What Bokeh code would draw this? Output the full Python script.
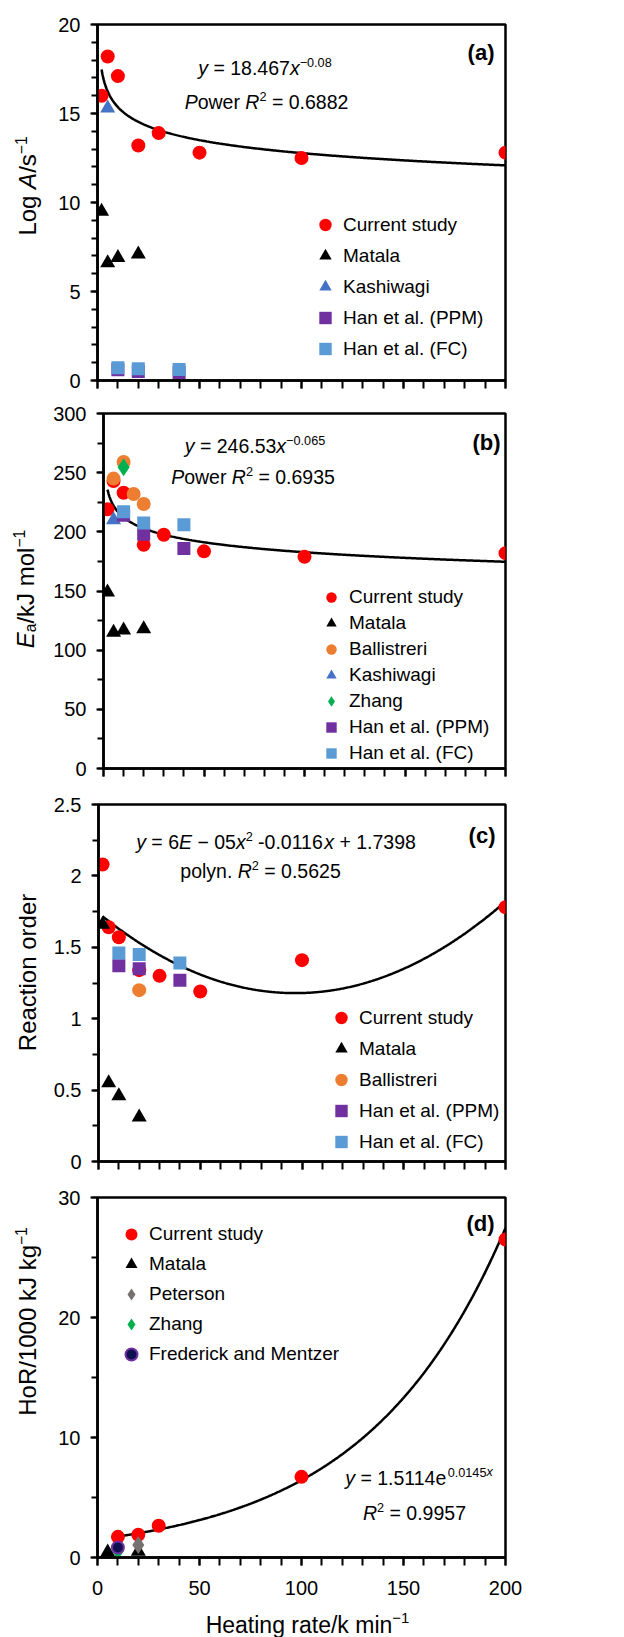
import math
import numpy as np
from bokeh.plotting import figure
from bokeh.layouts import column, row
from bokeh.models import (Range1d, Legend, LegendItem, Label, FixedTicker,
                          SingleIntervalTicker)
from bokeh.embed import file_html
from bokeh.resources import INLINE

FONT = "Liberation Sans"

# ---------------- data ----------------
# (a) Log A / s^-1
a_cs_x = [2, 5, 10, 20, 30, 50, 100, 200]
a_cs_y = [16.0, 18.2, 17.1, 13.2, 13.9, 12.8, 12.5, 12.8]
a_mat_x = [2, 5, 10, 20]
a_mat_y = [9.5, 6.6, 6.9, 7.1]
a_kas_x = [5]
a_kas_y = [15.3]
a_han_x = [10, 20, 40]
a_ppm_y = [0.6, 0.5, 0.45]
a_fc_y = [0.72, 0.66, 0.62]
a_fit = (18.467, -0.08)

# (b) Ea / kJ mol^-1
b_cs_x = [2, 5, 10, 20, 30, 50, 100, 200]
b_cs_y = [219, 243, 233, 189, 197.5, 183.5, 179, 182]
b_mat_x = [2, 5, 10, 20]
b_mat_y = [149, 115, 117, 118]
b_bal_x = [5, 10, 15, 20]
b_bal_y = [245, 259, 232, 223.5]
b_kas_x = [5]
b_kas_y = [210]
b_zh_x = [10]
b_zh_y = [254.5]
b_han_x = [10, 20, 40]
b_ppm_y = [214, 198, 186]
b_fc_y = [217, 207.5, 206]
b_fit = (246.53, -0.065)

# (c) Reaction order
c_cs_x = [2, 5, 10, 20, 30, 50, 100, 200]
c_cs_y = [2.08, 1.64, 1.57, 1.34, 1.30, 1.19, 1.41, 1.78]
c_mat_x = [2, 5, 10, 20]
c_mat_y = [1.66, 0.55, 0.46, 0.31]
c_bal_x = [20]
c_bal_y = [1.20]
c_han_x = [10, 20, 40]
c_ppm_y = [1.37, 1.35, 1.27]
c_fc_y = [1.46, 1.45, 1.39]
c_fit = (6e-5, -0.0116, 1.7398)

# (d) HoR / 1000 kJ kg^-1
d_cs_x = [10, 20, 30, 100, 200]
d_cs_y = [1.72, 1.89, 2.64, 6.72, 26.5]
d_mat_x = [5, 20]
d_mat_y = [0.45, 0.5]
d_pet_x = [20]
d_pet_y = [1.05]
d_zh_x = [10]
d_zh_y = [0.55]
d_fm_x = [10]
d_fm_y = [0.83]
d_fit = (1.5114, 0.0145)

x_major = [0, 50, 100, 150, 200]
x_minor = list(range(0, 201, 10))

# colours
RED = "#ff0000"
BLACK = "#000000"
ORANGE = "#ed7d31"
BLUE = "#4472c4"
GREEN = "#00b050"
PURPLE = "#7030a0"
LBLUE = "#5b9bd5"
GRAY = "#767171"
NAVY = "#101050"

# ---------------- text helpers ----------------
W = {' ': 278, '(': 333, ')': 333, '+': 584, ',': 278, '-': 333, '.': 278, '/': 278,
     '=': 584, '\u2212': 584}
for ch in "0123456789":
    W[ch] = 556
W.update(dict(zip("ABCDEFGHIJKLMNOPQRSTUVWXYZ",
                  [667, 667, 722, 722, 667, 611, 778, 722, 278, 500, 667, 556, 833,
                   722, 778, 667, 778, 722, 667, 611, 722, 667, 944, 667, 667, 611])))
W.update(dict(zip("abcdefghijklmnopqrstuvwxyz",
                  [556, 556, 500, 556, 556, 278, 556, 556, 222, 222, 500, 222, 833,
                   556, 556, 556, 556, 333, 500, 278, 556, 500, 722, 500, 500, 500])))
WB = dict(W)
WB.update({'a': 556, 'b': 611, 'c': 556, 'd': 611, '(': 333, ')': 333})


def seg_size(kind, size):
    return size * 0.65 if kind in ("s", "si", "d") else size


def str_width(text, kind, size):
    table = WB if kind == "b" else W
    return sum(table.get(c, 556) for c in text) * seg_size(kind, size) / 1000.0


def rich(p, frame, segs, cx, cy, size, vertical=False):
    """Place a run of text segments centred at page position (cx, cy)."""
    fl, fb = frame
    total = sum(str_width(t, k, size) for t, k in segs)
    if not vertical:
        cur = (cx - fl) - total / 2.0
        mid = fb - cy
    else:
        cur = (fb - cy) - total / 2.0
        mid = cx - fl
    for t, k in segs:
        body = t.strip(" ")
        lead = len(t) - len(t.lstrip(" "))
        fs = seg_size(k, size)
        pos = cur + str_width(" " * lead, k, size)
        shift = 0.0
        if k in ("s", "si"):
            shift = 0.27 * size
        elif k == "d":
            shift = -0.2 * size
        style = "normal"
        if k in ("i", "si"):
            style = "italic"
        elif k == "b":
            style = "bold"
        if not vertical:
            lab = Label(x=pos, y=mid + shift, x_units="screen", y_units="screen",
                        text=body, text_align="left", text_baseline="middle")
        else:
            lab = Label(x=mid - shift, y=pos, x_units="screen", y_units="screen",
                        text=body, text_align="left", text_baseline="middle",
                        angle=math.pi / 2)
        lab.text_font = FONT
        lab.text_font_size = f"{fs:.2f}px"
        lab.text_font_style = style
        lab.text_color = "black"
        p.add_layout(lab)
        cur += str_width(t, k, size)


def panel_tag(p, frame, tag, cy):
    w = str_width(tag, "b", 22)
    rich(p, frame, [(tag, "b")], 494 - w / 2.0, cy, 22)


STRIP_W = 50


def strip(width, height):
    s = figure(width=width, height=height, output_backend="svg", toolbar_location=None,
               x_range=Range1d(0, 1), y_range=Range1d(0, 1),
               x_axis_type=None, y_axis_type=None, min_border=0)
    s.outline_line_color = None
    s.xgrid.visible = False
    s.ygrid.visible = False
    s.background_fill_color = "white"
    s.border_fill_color = "white"
    return s


# ---------------- figure factory ----------------
def make_fig(height, top, bottom, y_end, y_interval, y_minor, show_x_labels):
    p = figure(width=624 - STRIP_W, height=height, output_backend="svg",
               toolbar_location=None,
               x_range=Range1d(0, 200), y_range=Range1d(0, y_end),
               min_border_left=97 - STRIP_W, min_border_right=119,
               min_border_top=top, min_border_bottom=bottom)
    p.xgrid.visible = False
    p.ygrid.visible = False
    p.outline_line_color = "black"
    p.outline_line_width = 2.5
    p.background_fill_color = "white"
    p.border_fill_color = "white"

    p.xaxis.ticker = FixedTicker(ticks=x_major, minor_ticks=x_minor)
    p.yaxis.ticker = SingleIntervalTicker(interval=y_interval, num_minor_ticks=y_minor)
    for ax in (p.xaxis, p.yaxis):
        ax.axis_line_width = 2.5
        ax.axis_line_color = "black"
        ax.major_tick_line_width = 2
        ax.minor_tick_line_width = 2
        ax.major_tick_in = 0
        ax.minor_tick_in = 0
        ax.major_label_text_font = FONT
        ax.major_label_text_font_size = "20px"
        ax.major_label_text_color = "black"
    p.xaxis.major_tick_out = 8
    p.xaxis.minor_tick_out = 8
    p.yaxis.major_tick_out = 7
    p.yaxis.minor_tick_out = 6
    p.yaxis.major_label_standoff = 10
    if show_x_labels:
        p.xaxis.major_label_standoff = 15
    else:
        p.xaxis.major_label_overrides = {t: "" for t in x_major}
        p.xaxis.major_label_standoff = 0
    return p


def add_legend(p, items, loc, gh, spacing, standoff=2):
    lg = Legend(items=[LegendItem(label=l, renderers=[r]) for l, r in items],
                location=loc, orientation="vertical")
    lg.label_text_font = FONT
    lg.label_text_font_size = "19px"
    lg.label_text_color = "black"
    lg.glyph_width = 32
    lg.glyph_height = gh
    lg.label_height = gh
    lg.spacing = spacing
    lg.padding = 0
    lg.margin = 0
    lg.label_standoff = standoff
    lg.border_line_alpha = 0
    lg.background_fill_alpha = 0
    p.add_layout(lg)


TITLE = 24

# ---------------- (a) ----------------
pa = make_fig(396, 24, 16, 20, 5, 5, False)
sa = strip(STRIP_W, 396)
fa = (97, 380)
xa = np.linspace(min(a_cs_x), max(a_cs_x), 400)
pa.line(xa, a_fit[0] * xa ** a_fit[1], line_color="black", line_width=2.5)
ra1 = pa.scatter(a_cs_x, a_cs_y, marker="circle", size=14, fill_color=RED, line_color=None)
ra2 = pa.scatter(a_mat_x, a_mat_y, marker="triangle", size=15, fill_color=BLACK, line_color=None)
ra3 = pa.scatter(a_kas_x, a_kas_y, marker="triangle", size=15, fill_color=BLUE, line_color=None)
ra4 = pa.scatter(a_han_x, a_ppm_y, marker="square", size=13, fill_color=PURPLE, line_color=None)
ra5 = pa.scatter(a_han_x, a_fc_y, marker="square", size=13, fill_color=LBLUE, line_color=None)
add_legend(pa, [("Current study", ra1), ("Matala", ra2), ("Kashiwagi", ra3),
                ("Han et al. (PPM)", ra4), ("Han et al. (FC)", ra5)], (212, 16), 31, 0)
rich(pa, fa, [("y", "i"), (" = 18.467", "n"), ("x", "i"), ("\u22120.08", "s")], 264.5, 67, 19.5)
rich(pa, fa, [("P", "i"), ("ower ", "n"), ("R", "i"), ("2", "s"), (" = 0.6882", "n")], 266, 101, 19.5)
panel_tag(pa, fa, "(a)", 52)
rich(sa, (0, 396), [("Log ", "n"), ("A", "i"), ("/s", "n"), ("\u22121", "s")], 27, 201.5, TITLE,
     vertical=True)

# ---------------- (b) ----------------
pb = make_fig(388, 17, 16, 300, 50, 2, False)
sb = strip(STRIP_W, 388)
fbb = (97, 768)
xb = np.linspace(min(b_cs_x), max(b_cs_x), 400)
pb.line(xb, b_fit[0] * xb ** b_fit[1], line_color="black", line_width=2.5)
rb1 = pb.scatter(b_cs_x, b_cs_y, marker="circle", size=14, fill_color=RED, line_color=None)
rb2 = pb.scatter(b_mat_x, b_mat_y, marker="triangle", size=15, fill_color=BLACK, line_color=None)
rb3 = pb.scatter(b_bal_x, b_bal_y, marker="circle", size=14, fill_color=ORANGE, line_color=None)
rb4 = pb.scatter(b_kas_x, b_kas_y, marker="triangle", size=15, fill_color=BLUE, line_color=None)
rb5 = pb.scatter(b_zh_x, b_zh_y, marker="diamond", size=18, fill_color=GREEN, line_color=None)
rb6 = pb.scatter(b_han_x, b_ppm_y, marker="square", size=13, fill_color=PURPLE, line_color=None)
rb7 = pb.scatter(b_han_x, b_fc_y, marker="square", size=13, fill_color=LBLUE, line_color=None)
add_legend(pb, [("Current study", rb1), ("Matala", rb2), ("Ballistreri", rb3),
                ("Kashiwagi", rb4), ("Zhang", rb5), ("Han et al. (PPM)", rb6),
                ("Han et al. (FC)", rb7)], (212, 2), 26, 0)
rich(pb, fbb, [("y", "i"), (" = 246.53", "n"), ("x", "i"), ("\u22120.065", "s")], 248.5, 445, 19.5)
rich(pb, fbb, [("P", "i"), ("ower ", "n"), ("R", "i"), ("2", "s"), (" = 0.6935", "n")], 246.5, 476, 19.5)
panel_tag(pb, fbb, "(b)", 442)
rich(sb, (0, 784), [("E", "i"), ("a", "d"), ("/kJ mol", "n"), ("\u22121", "s")], 25, 604.5, TITLE,
     vertical=True)

# ---------------- (c) ----------------
pc = make_fig(393, 20, 16, 2.5, 0.5, 2, False)
sc = strip(STRIP_W, 393)
fc = (97, 1161)
xc = np.linspace(min(c_cs_x), max(c_cs_x), 400)
pc.line(xc, c_fit[0] * xc ** 2 + c_fit[1] * xc + c_fit[2], line_color="black", line_width=2.5)
rc1 = pc.scatter(c_cs_x, c_cs_y, marker="circle", size=14, fill_color=RED, line_color=None)
rc2 = pc.scatter(c_mat_x, c_mat_y, marker="triangle", size=15, fill_color=BLACK, line_color=None)
rc3 = pc.scatter(c_bal_x, c_bal_y, marker="circle", size=14, fill_color=ORANGE, line_color=None)
rc4 = pc.scatter(c_han_x, c_ppm_y, marker="square", size=13, fill_color=PURPLE, line_color=None)
rc5 = pc.scatter(c_han_x, c_fc_y, marker="square", size=13, fill_color=LBLUE, line_color=None)
add_legend(pc, [("Current study", rc1), ("Matala", rc2), ("Ballistreri", rc3),
                ("Han et al. (PPM)", rc4), ("Han et al. (FC)", rc5)], (227, 4), 31, 0)
rich(pc, fc, [("y", "i"), (" = 6", "n"), ("E", "i"), (" \u2212 05", "n"), ("x", "i"), ("2", "s"),
              (" -0.0116", "n"), ("x", "i"), (" + 1.7398", "n")], 274.5, 841, 19.5)
rich(pc, fc, [("polyn. ", "n"), ("R", "i"), ("2", "s"), (" = 0.5625", "n")], 259, 870, 19.5)
panel_tag(pc, fc, "(c)", 835)
rich(sc, (0, 1177), [("Reaction order", "n")], 27, 988, TITLE, vertical=True)

# ---------------- (d) ----------------
pd_ = make_fig(428, 20, 48, 30, 10, 2, True)
sd = strip(STRIP_W, 428)
fd = (97, 1557)
xd = np.linspace(min(d_cs_x), max(d_cs_x), 400)
pd_.line(xd, d_fit[0] * np.exp(d_fit[1] * xd), line_color="black", line_width=2.5)
rd1 = pd_.scatter(d_cs_x, d_cs_y, marker="circle", size=14, fill_color=RED, line_color=None)
rd2 = pd_.scatter(d_mat_x, d_mat_y, marker="triangle", size=15, fill_color=BLACK, line_color=None)
rd3 = pd_.scatter(d_pet_x, d_pet_y, marker="diamond", size=18, fill_color=GRAY, line_color=None)
rd4 = pd_.scatter(d_zh_x, d_zh_y, marker="diamond", size=18, fill_color=GREEN, line_color=None)
rd5 = pd_.scatter(d_fm_x, d_fm_y, marker="circle", size=12, fill_color=NAVY,
                  line_color=PURPLE, line_width=2)
add_legend(pd_, [("Current study", rd1), ("Matala", rd2), ("Peterson", rd3), ("Zhang", rd4),
                 ("Frederick and Mentzer", rd5)], (18, 188), 30, 0)
rich(pd_, fd, [("y", "i"), (" = 1.5114e", "n"), ("0.0145", "s"), ("x", "si")], 418.5, 1477, 19.5)
rich(pd_, fd, [("R", "i"), ("2", "s"), (" = 0.9957", "n")], 414, 1512, 19.5)
panel_tag(pd_, fd, "(d)", 1223)
rich(sd, (0, 1605), [("HoR/1000 kJ kg", "n"), ("\u22121", "s")], 27, 1369, TITLE, vertical=True)

sx = strip(624, 32)
rich(sx, (0, 1637), [("Heating rate/k min", "n"), ("\u22121", "s")], 307, 1624, 23)

layout = column(row(sa, pa, spacing=0), row(sb, pb, spacing=0), row(sc, pc, spacing=0),
                row(sd, pd_, spacing=0), sx, spacing=0)
open("out.html", "w").write(file_html(layout, INLINE))
